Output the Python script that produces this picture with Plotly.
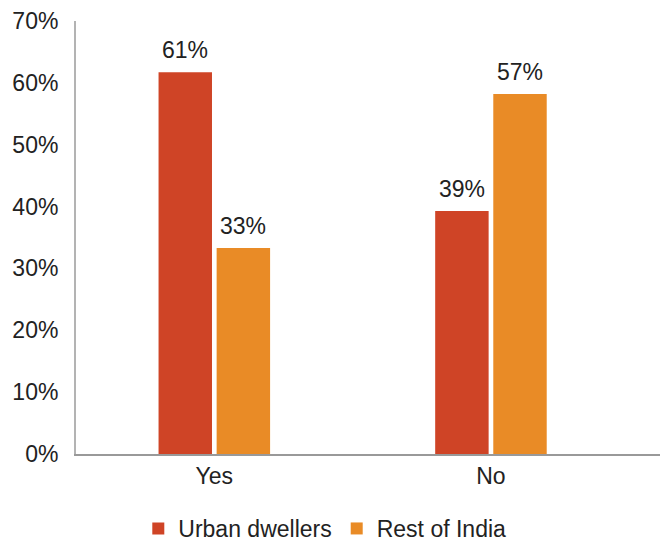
import plotly.graph_objects as go

categories = ["Yes", "No"]
urban = [61.7, 39.3]
rest = [33.3, 58.2]
urban_labels = ["61%", "39%"]
rest_labels = ["33%", "57%"]

font = "Liberation Sans, Arial, sans-serif"
fsize = 23
bargap = 0.58
slot = (1 - bargap) / 2

fig = go.Figure()
fig.add_trace(go.Bar(x=categories, y=urban, name="Urban dwellers",
                     marker=dict(color="#CF4426", line=dict(width=0))))
fig.add_trace(go.Bar(x=categories, y=rest, name="Rest of India",
                     marker=dict(color="#E98B26", line=dict(width=0))))

# value labels above bars
for i, cat in enumerate(categories):
    for vals, labels, sign in ((urban, urban_labels, -1), (rest, rest_labels, 1)):
        fig.add_annotation(x=i + sign * slot / 2, y=vals[i], text=labels[i],
                           showarrow=False, yanchor="bottom", yshift=7,
                           font=dict(size=fsize, color="#222222"))

# page body has an 8px margin, so the figure is a bit smaller than the window
fig.update_layout(
    width=660, height=542,
    margin=dict(l=68, r=0, t=13, b=96),
    paper_bgcolor="white", plot_bgcolor="white",
    font=dict(family=font, size=fsize, color="#222222"),
    barmode="group", bargap=bargap, bargroupgap=0.08,
    showlegend=True,
    legend=dict(orientation="h", xref="container", yref="container",
                x=0.48, xanchor="center", y=-0.01, yanchor="bottom",
                font=dict(size=fsize, color="#222222"), itemwidth=30, traceorder="normal"),
    xaxis=dict(range=[-0.5, 1.64], showline=True, linecolor="#999999", linewidth=2,
               ticks="", showgrid=False, zeroline=False, tickfont=dict(size=fsize),
               automargin=False),
    yaxis=dict(range=[0, 70], dtick=10, ticksuffix="%", showline=True,
               linecolor="#b3b3b3", linewidth=2, showgrid=False, zeroline=False,
               ticks="", ticklabelstandoff=11, tickfont=dict(size=fsize),
               automargin=False),
)

fig.write_html("out.html")
